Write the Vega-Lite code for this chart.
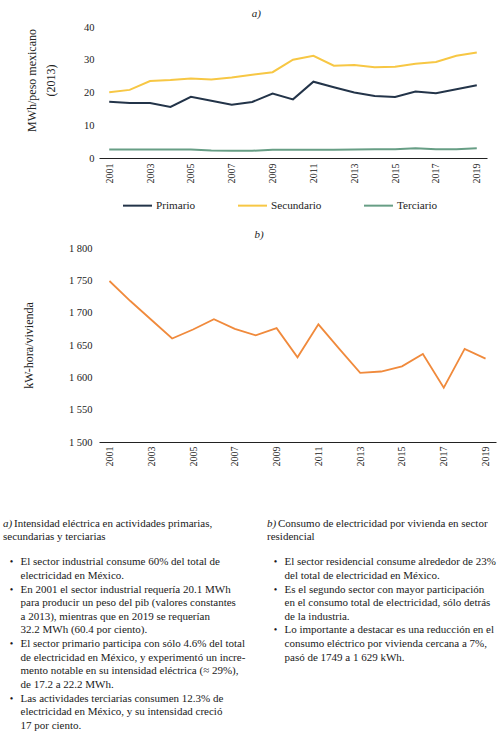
{
  "$schema": "https://vega.github.io/schema/vega-lite/v6.json",
  "description": "Intensidad eléctrica por sector y consumo por vivienda en México, 2001-2019",
  "padding": {"left": 3, "top": 8, "right": 0, "bottom": 0},
  "spacing": 45,
  "config": {
    "font": "Liberation Serif",
    "view": {"stroke": null},
    "axis": {
      "labelFont": "Liberation Serif",
      "titleFont": "Liberation Serif",
      "labelColor": "#222222",
      "titleColor": "#222222",
      "titleFontWeight": "normal",
      "titleFontSize": 12,
      "labelFontSize": 10.5,
      "grid": false,
      "ticks": false,
      "domain": false
    },
    "axisX": {
      "domain": true,
      "domainColor": "#222222",
      "domainWidth": 1,
      "labelAngle": 270,
      "labelPadding": 5,
      "labelFontSize": 10,
      "title": null
    },
    "title": {
      "font": "Liberation Serif",
      "fontStyle": "italic",
      "fontWeight": "normal",
      "fontSize": 11,
      "frame": "bounds",
      "anchor": "middle",
      "offset": 3,
      "color": "#222222"
    },
    "text": {"font": "Liberation Serif", "fontSize": 11, "color": "#1a1a1a", "baseline": "middle"}
  },
  "datasets": {
    "intensidad": [
      {"year": 2001, "sector": "Primario", "valor": 17.2},
      {"year": 2002, "sector": "Primario", "valor": 16.8},
      {"year": 2003, "sector": "Primario", "valor": 16.8},
      {"year": 2004, "sector": "Primario", "valor": 15.6},
      {"year": 2005, "sector": "Primario", "valor": 18.7},
      {"year": 2006, "sector": "Primario", "valor": 17.5},
      {"year": 2007, "sector": "Primario", "valor": 16.3},
      {"year": 2008, "sector": "Primario", "valor": 17.1},
      {"year": 2009, "sector": "Primario", "valor": 19.7},
      {"year": 2010, "sector": "Primario", "valor": 17.9},
      {"year": 2011, "sector": "Primario", "valor": 23.3},
      {"year": 2012, "sector": "Primario", "valor": 21.6},
      {"year": 2013, "sector": "Primario", "valor": 20.0},
      {"year": 2014, "sector": "Primario", "valor": 18.9},
      {"year": 2015, "sector": "Primario", "valor": 18.6},
      {"year": 2016, "sector": "Primario", "valor": 20.3},
      {"year": 2017, "sector": "Primario", "valor": 19.8},
      {"year": 2018, "sector": "Primario", "valor": 21.0},
      {"year": 2019, "sector": "Primario", "valor": 22.2},
      {"year": 2001, "sector": "Secundario", "valor": 20.1},
      {"year": 2002, "sector": "Secundario", "valor": 20.8},
      {"year": 2003, "sector": "Secundario", "valor": 23.5},
      {"year": 2004, "sector": "Secundario", "valor": 23.8},
      {"year": 2005, "sector": "Secundario", "valor": 24.3},
      {"year": 2006, "sector": "Secundario", "valor": 24.0},
      {"year": 2007, "sector": "Secundario", "valor": 24.6},
      {"year": 2008, "sector": "Secundario", "valor": 25.4},
      {"year": 2009, "sector": "Secundario", "valor": 26.2},
      {"year": 2010, "sector": "Secundario", "valor": 30.0},
      {"year": 2011, "sector": "Secundario", "valor": 31.2},
      {"year": 2012, "sector": "Secundario", "valor": 28.2},
      {"year": 2013, "sector": "Secundario", "valor": 28.4},
      {"year": 2014, "sector": "Secundario", "valor": 27.7},
      {"year": 2015, "sector": "Secundario", "valor": 27.9},
      {"year": 2016, "sector": "Secundario", "valor": 28.8},
      {"year": 2017, "sector": "Secundario", "valor": 29.3},
      {"year": 2018, "sector": "Secundario", "valor": 31.2},
      {"year": 2019, "sector": "Secundario", "valor": 32.2},
      {"year": 2001, "sector": "Terciario", "valor": 2.6},
      {"year": 2002, "sector": "Terciario", "valor": 2.6},
      {"year": 2003, "sector": "Terciario", "valor": 2.6},
      {"year": 2004, "sector": "Terciario", "valor": 2.6},
      {"year": 2005, "sector": "Terciario", "valor": 2.6},
      {"year": 2006, "sector": "Terciario", "valor": 2.3},
      {"year": 2007, "sector": "Terciario", "valor": 2.2},
      {"year": 2008, "sector": "Terciario", "valor": 2.2},
      {"year": 2009, "sector": "Terciario", "valor": 2.5},
      {"year": 2010, "sector": "Terciario", "valor": 2.5},
      {"year": 2011, "sector": "Terciario", "valor": 2.5},
      {"year": 2012, "sector": "Terciario", "valor": 2.5},
      {"year": 2013, "sector": "Terciario", "valor": 2.6},
      {"year": 2014, "sector": "Terciario", "valor": 2.7},
      {"year": 2015, "sector": "Terciario", "valor": 2.7},
      {"year": 2016, "sector": "Terciario", "valor": 3.0},
      {"year": 2017, "sector": "Terciario", "valor": 2.7},
      {"year": 2018, "sector": "Terciario", "valor": 2.7},
      {"year": 2019, "sector": "Terciario", "valor": 3.0}
    ],
    "vivienda": [
      {"year": 2001, "kwh": 1749},
      {"year": 2002, "kwh": 1718},
      {"year": 2003, "kwh": 1689},
      {"year": 2004, "kwh": 1660},
      {"year": 2005, "kwh": 1674},
      {"year": 2006, "kwh": 1690},
      {"year": 2007, "kwh": 1675},
      {"year": 2008, "kwh": 1665},
      {"year": 2009, "kwh": 1676},
      {"year": 2010, "kwh": 1631},
      {"year": 2011, "kwh": 1682},
      {"year": 2012, "kwh": 1644},
      {"year": 2013, "kwh": 1607},
      {"year": 2014, "kwh": 1609},
      {"year": 2015, "kwh": 1617},
      {"year": 2016, "kwh": 1636},
      {"year": 2017, "kwh": 1584},
      {"year": 2018, "kwh": 1644},
      {"year": 2019, "kwh": 1629}
    ],
    "notas": [
      {"panel": "a", "linea": -2, "tipo": "titulo1", "etiqueta": "a)", "texto": "Intensidad eléctrica en actividades primarias,"},
      {"panel": "a", "linea": -1, "tipo": "titulo2", "texto": "secundarias y terciarias"},
      {"panel": "a", "linea": 0, "tipo": "vineta", "texto": "El sector industrial consume 60% del total de"},
      {"panel": "a", "linea": 1, "tipo": "cont", "texto": "electricidad en México."},
      {"panel": "a", "linea": 2, "tipo": "vineta", "texto": "En 2001 el sector industrial requería 20.1 MWh"},
      {"panel": "a", "linea": 3, "tipo": "cont", "texto": "para producir un peso del pib (valores constantes"},
      {"panel": "a", "linea": 4, "tipo": "cont", "texto": "a 2013), mientras que en 2019 se requerían"},
      {"panel": "a", "linea": 5, "tipo": "cont", "texto": "32.2 MWh (60.4 por ciento)."},
      {"panel": "a", "linea": 6, "tipo": "vineta", "texto": "El sector primario participa con sólo 4.6% del total"},
      {"panel": "a", "linea": 7, "tipo": "cont", "texto": "de electricidad en México, y experimentó un incre-"},
      {"panel": "a", "linea": 8, "tipo": "cont", "texto": "mento notable en su intensidad eléctrica (≈ 29%),"},
      {"panel": "a", "linea": 9, "tipo": "cont", "texto": "de 17.2 a 22.2 MWh."},
      {"panel": "a", "linea": 10, "tipo": "vineta", "texto": "Las actividades terciarias consumen 12.3% de"},
      {"panel": "a", "linea": 11, "tipo": "cont", "texto": "electricidad en México, y su intensidad creció"},
      {"panel": "a", "linea": 12, "tipo": "cont", "texto": "17 por ciento."},
      {"panel": "b", "linea": -2, "tipo": "titulo1", "etiqueta": "b)", "texto": "Consumo de electricidad por vivienda en sector"},
      {"panel": "b", "linea": -1, "tipo": "titulo2", "texto": "residencial"},
      {"panel": "b", "linea": 0, "tipo": "vineta", "texto": "El sector residencial consume alrededor de 23%"},
      {"panel": "b", "linea": 1, "tipo": "cont", "texto": "del total de electricidad en México."},
      {"panel": "b", "linea": 2, "tipo": "vineta", "texto": "Es el segundo sector con mayor participación"},
      {"panel": "b", "linea": 3, "tipo": "cont", "texto": "en el consumo total de electricidad, sólo detrás"},
      {"panel": "b", "linea": 4, "tipo": "cont", "texto": "de la industria."},
      {"panel": "b", "linea": 5, "tipo": "vineta", "texto": "Lo importante a destacar es una reducción en el"},
      {"panel": "b", "linea": 6, "tipo": "cont", "texto": "consumo eléctrico por vivienda cercana a 7%,"},
      {"panel": "b", "linea": 7, "tipo": "cont", "texto": "pasó de 1749 a 1 629 kWh."}
    ]
  },
  "vconcat": [
    {
      "title": "a)",
      "width": 388,
      "height": 131,
      "data": {"name": "intensidad"},
      "mark": {"type": "line", "strokeWidth": 2},
      "encoding": {
        "x": {
          "field": "year",
          "type": "ordinal",
          "scale": {"type": "point", "padding": 0.5},
          "axis": {"values": [2001, 2003, 2005, 2007, 2009, 2011, 2013, 2015, 2017, 2019]}
        },
        "y": {
          "field": "valor",
          "type": "quantitative",
          "scale": {"domain": [0, 40]},
          "axis": {
            "values": [0, 10, 20, 30, 40],
            "title": ["MWh/peso mexicano", "(2013)"],
            "titleLineHeight": 19,
            "titleY": 53,
            "titlePadding": 26,
            "labelPadding": 5
          }
        },
        "color": {
          "field": "sector",
          "type": "nominal",
          "scale": {
            "domain": ["Primario", "Secundario", "Terciario"],
            "range": ["#233449", "#F7C744", "#679E85"]
          },
          "legend": {
            "orient": "none",
            "legendX": 23,
            "legendY": 163,
            "direction": "horizontal",
            "title": null,
            "symbolType": "stroke",
            "symbolSize": 841,
            "symbolStrokeWidth": 2,
            "labelFont": "Liberation Serif",
            "labelFontSize": 11.2,
            "labelColor": "#222222",
            "labelOffset": 3,
            "columnPadding": 38
          }
        }
      }
    },
    {
      "title": "b)",
      "width": 397,
      "height": 194,
      "data": {"name": "vivienda"},
      "mark": {"type": "line", "color": "#F08A3C", "strokeWidth": 1.8},
      "encoding": {
        "x": {
          "field": "year",
          "type": "ordinal",
          "scale": {"type": "point", "padding": 0.5},
          "axis": {"values": [2001, 2003, 2005, 2007, 2009, 2011, 2013, 2015, 2017, 2019], "labelPadding": 4}
        },
        "y": {
          "field": "kwh",
          "type": "quantitative",
          "scale": {"domain": [1500, 1800]},
          "axis": {
            "values": [1500, 1550, 1600, 1650, 1700, 1750, 1800],
            "format": "d",
            "labelExpr": "slice(datum.label, 0, 1) + ' ' + slice(datum.label, 1)",
            "title": "kW-hora/vivienda",
            "titlePadding": 33,
            "labelPadding": 7
          }
        }
      }
    },
    {
      "width": 400,
      "height": 220,
      "data": {"name": "notas"},
      "encoding": {
        "x": {
          "field": "panel",
          "type": "nominal",
          "scale": {"type": "point", "padding": 0, "domain": ["a", "b"], "range": [-96, 168]},
          "axis": null
        },
        "y": {
          "field": "linea",
          "type": "quantitative",
          "scale": {"domain": [-3.77, 12.38], "reverse": true, "nice": false, "zero": false},
          "axis": null
        }
      },
      "layer": [
        {
          "transform": [{"filter": "datum.tipo === 'titulo1'"}],
          "mark": {"type": "text", "align": "left", "fontStyle": "italic", "dy": -11.5},
          "encoding": {"text": {"field": "etiqueta"}}
        },
        {
          "transform": [{"filter": "datum.tipo === 'titulo1'"}],
          "mark": {"type": "text", "align": "left", "dx": 11, "dy": -11.5},
          "encoding": {"text": {"field": "texto"}}
        },
        {
          "transform": [{"filter": "datum.tipo === 'titulo2'"}],
          "mark": {"type": "text", "align": "left", "dy": -11.5},
          "encoding": {"text": {"field": "texto"}}
        },
        {
          "transform": [{"filter": "datum.tipo === 'vineta' || datum.tipo === 'cont'"}],
          "mark": {"type": "text", "align": "left", "dx": 17.5},
          "encoding": {"text": {"field": "texto"}}
        },
        {
          "transform": [{"filter": "datum.tipo === 'vineta'"}],
          "mark": {"type": "text", "align": "center", "dx": 8.5, "text": "•", "fontSize": 10}
        }
      ]
    }
  ]
}
